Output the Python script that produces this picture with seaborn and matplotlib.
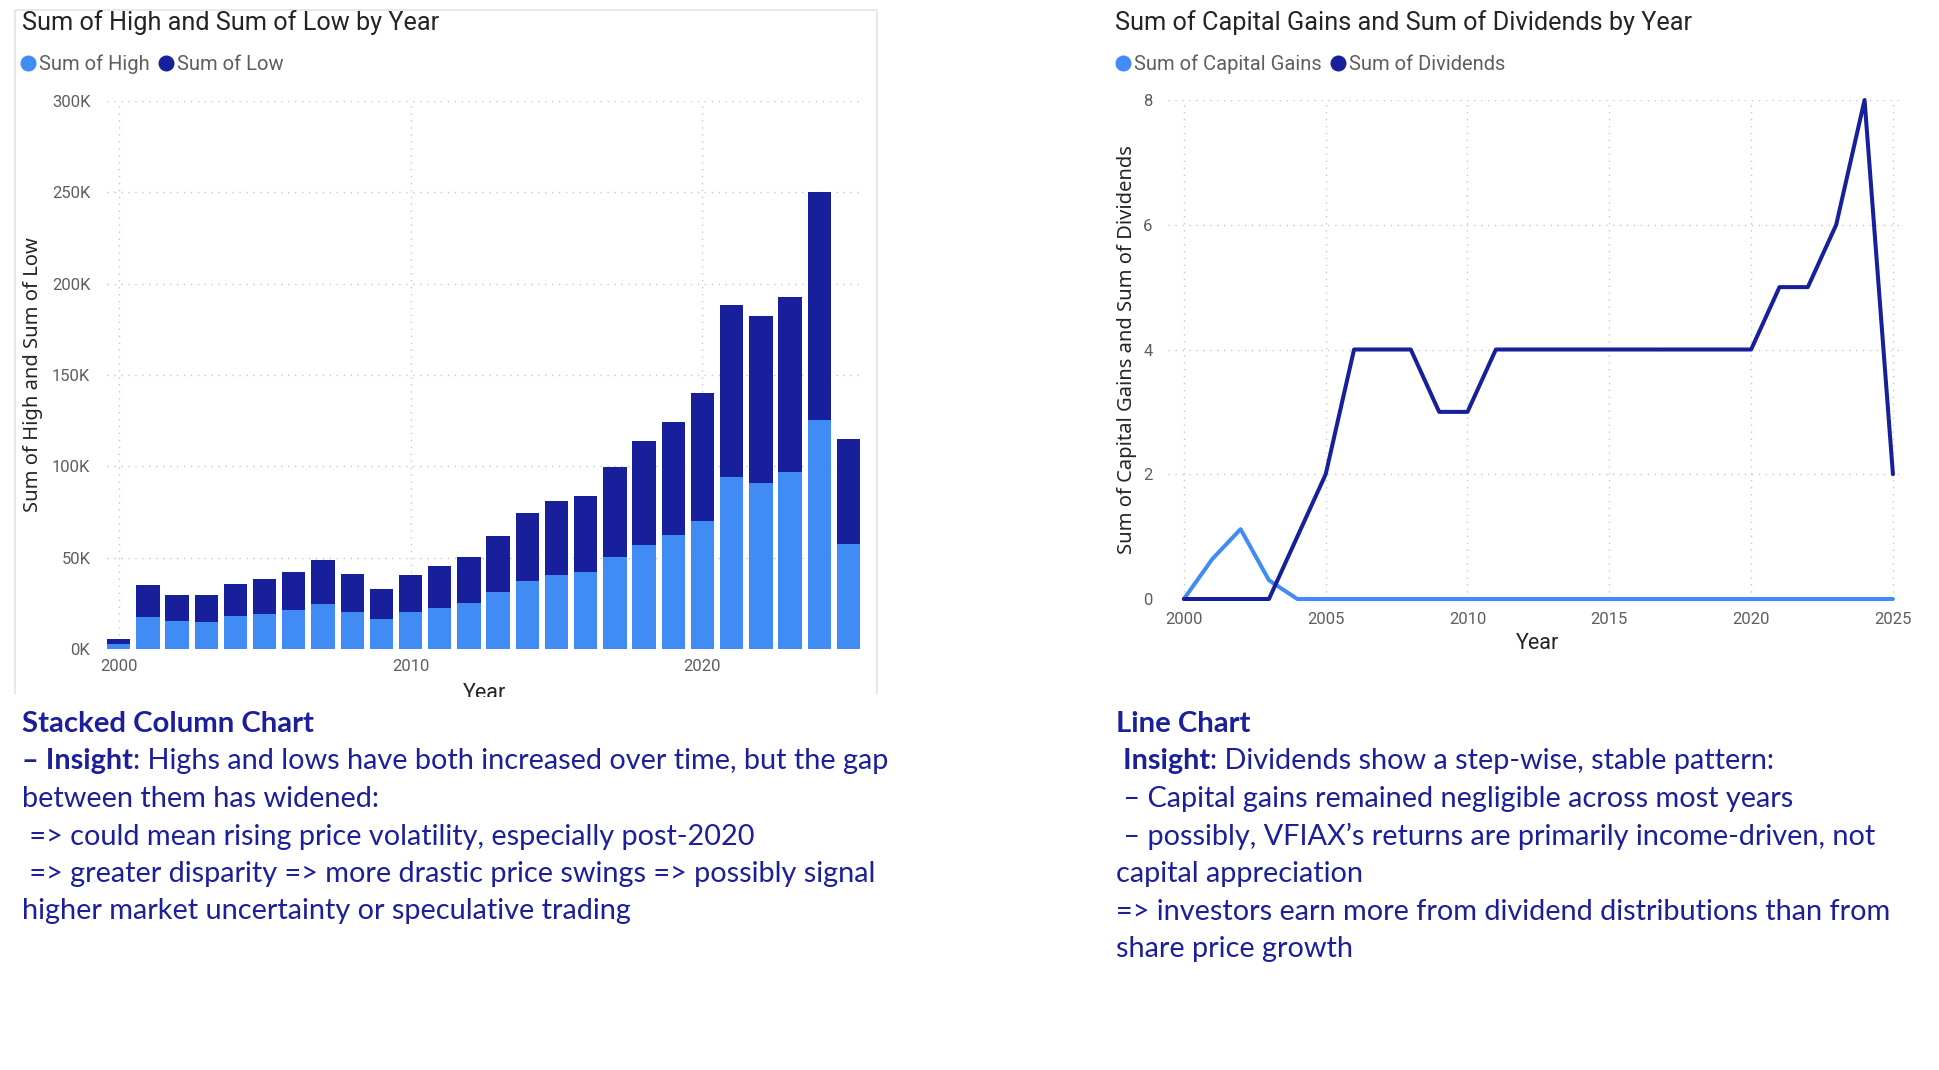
"""Stacked column + line chart with insight notes (VFIAX yearly sums)."""

import matplotlib

matplotlib.use("Agg")
import matplotlib.pyplot as plt
import pandas as pd
import seaborn as sns
from matplotlib.lines import Line2D
from matplotlib.patches import Rectangle
from matplotlib.ticker import FuncFormatter, MultipleLocator

# ---- data ----
years = list(range(2000, 2026))

# thousands
sum_high = [2.7, 17.6, 15.1, 14.9, 17.8, 19.3, 21.3, 24.4, 20.5, 16.4, 20.0, 22.7, 25.2,
            31.0, 37.1, 40.3, 42.0, 50.1, 57.2, 62.3, 70.1, 94.3, 91.1, 96.7, 125.1, 57.6]
sum_low = [2.8, 17.6, 14.7, 14.7, 17.6, 19.1, 21.0, 24.2, 20.5, 16.3, 20.3, 23.0, 25.1,
           31.0, 37.2, 40.5, 42.0, 49.8, 56.9, 61.8, 70.1, 94.0, 91.1, 96.2, 125.0, 57.4]

capital_gains = [0, 0.64, 1.12, 0.3, 0, 0, 0, 0, 0, 0, 0, 0, 0,
                 0, 0, 0, 0, 0, 0, 0, 0, 0, 0, 0, 0, 0]
dividends = [0, 0, 0, 0, 1, 2, 4, 4, 4, 3, 3, 4, 4,
             4, 4, 4, 4, 4, 4, 4, 4, 5, 5, 6, 8, 2]

left_notes = [
    [("Stacked Column Chart", True)],
    [("– Insight", True), (": Highs and lows have both increased over time, but the gap", False)],
    [("between them has widened:", False)],
    [(" => could mean rising price volatility, especially post-2020", False)],
    [(" => greater disparity => more drastic price swings => possibly signal", False)],
    [("higher market uncertainty or speculative trading", False)],
]
right_notes = [
    [("Line Chart", True)],
    [(" Insight", True), (": Dividends show a step-wise, stable pattern:", False)],
    [(" – Capital gains remained negligible across most years", False)],
    [(" – possibly, VFIAX’s returns are primarily income-driven, not", False)],
    [("capital appreciation", False)],
    [("=> investors earn more from dividend distributions than from", False)],
    [("share price growth", False)],
]

HIGH_BLUE = "#418BF5"
NAVY = "#17209A"
TEXT_NAVY = "#1B1F99"
TICK_GRAY = "#605E5C"
DARK = "#252423"
GRID = "#C8C6C4"

W, H = 1940, 1070

sns.set_style("white")
plt.rcParams["font.family"] = ["Roboto", "DejaVu Sans"]

fig = plt.figure(figsize=(W / 100, H / 100), dpi=100)


def fx(x):
    return x / W


def fy(y):
    return 1 - y / H


def px_axes(left, top, right, bottom):
    return fig.add_axes([fx(left), fy(bottom), (right - left) / W, (bottom - top) / H])


def style_axes(ax, ypad, xpad):
    sns.despine(ax=ax, left=True, bottom=True)
    ax.grid(True, color=GRID, linestyle=(0, (1, 4)), linewidth=1)
    ax.set_axisbelow(True)
    ax.tick_params(axis="both", length=0, labelsize=12, labelcolor=TICK_GRAY)
    ax.tick_params(axis="y", pad=ypad)
    ax.tick_params(axis="x", pad=xpad)


# ---- left: stacked columns ----
ax1 = px_axes(107, 101, 863, 649)
bars = pd.DataFrame({"Year": years, "High": sum_high, "Low": sum_low})
bars["Total"] = bars["High"] + bars["Low"]
sns.barplot(data=bars, x="Year", y="Total", native_scale=True, color=NAVY,
            saturation=1, width=0.8, linewidth=0, ax=ax1)
sns.barplot(data=bars, x="Year", y="High", native_scale=True, color=HIGH_BLUE,
            saturation=1, width=0.8, linewidth=0, ax=ax1)
ax1.set_xlim(1999.6, 2025.5)
ax1.set_ylim(0, 300)
ax1.set_xticks([2000, 2010, 2020])
ax1.yaxis.set_major_locator(MultipleLocator(50))
ax1.yaxis.set_major_formatter(FuncFormatter(lambda v, _: f"{v:.0f}K"))
style_axes(ax1, ypad=12, xpad=7)
ax1.set_ylabel("Sum of High and Sum of Low", fontsize=14.5, color=DARK,
               family=["Noto Sans", "DejaVu Sans"])
ax1.yaxis.set_label_coords(-0.085, 0.5)
ax1.set_xlabel("Year", fontsize=15.5, color=DARK, va="center")
ax1.xaxis.set_label_coords(0.5, -0.0805)

# ---- right: lines ----
ax2 = px_axes(1168, 100, 1902, 599)
lines = pd.DataFrame({"Year": years, "Capital Gains": capital_gains, "Dividends": dividends})
sns.lineplot(data=lines, x="Year", y="Capital Gains", color=HIGH_BLUE, linewidth=2.9,
             clip_on=False, ax=ax2)
sns.lineplot(data=lines, x="Year", y="Dividends", color=NAVY, linewidth=2.9,
             clip_on=False, ax=ax2)
ax2.set_xlim(1999.44, 2025.32)
ax2.set_ylim(0, 8)
ax2.set_xticks(range(2000, 2026, 5))
ax2.yaxis.set_major_locator(MultipleLocator(2))
style_axes(ax2, ypad=11, xpad=9)
ax2.set_ylabel("Sum of Capital Gains and Sum of Dividends", fontsize=14.5, color=DARK,
               family=["Noto Sans", "DejaVu Sans"])
ax2.yaxis.set_label_coords(-0.042, 0.5)
ax2.set_xlabel("Year", fontsize=15.5, color=DARK, va="center")
ax2.xaxis.set_label_coords(0.504, -0.09)

# ---- titles and legends ----
fig.text(fx(22), fy(23), "Sum of High and Sum of Low by Year", fontsize=18.2,
         color=DARK, va="center")
fig.text(fx(1115), fy(23), "Sum of Capital Gains and Sum of Dividends by Year",
         fontsize=18.2, color=DARK, va="center")


def dot(color):
    return Line2D([], [], marker="o", linestyle="none", markersize=10.5,
                  markerfacecolor=color, markeredgecolor=color)


for x0, labels in [(22, ["Sum of High", "Sum of Low"]),
                   (1117, ["Sum of Capital Gains", "Sum of Dividends"])]:
    fig.legend([dot(HIGH_BLUE), dot(NAVY)], labels, loc="center left",
               bbox_to_anchor=(fx(x0), fy(64)), ncol=2, frameon=False,
               handlelength=0.6, handletextpad=0.25, columnspacing=0.5,
               borderpad=0, borderaxespad=0, fontsize=14.5, labelcolor=TICK_GRAY)

# ---- panel border for the left visual, cut by the note box ----
fig.add_artist(Line2D([fx(15), fx(15), fx(877), fx(877)],
                      [fy(694), fy(10), fy(10), fy(694)],
                      transform=fig.transFigure, color="#E6E6E6", linewidth=1.3))
fig.add_artist(Rectangle((0, 0), fx(900), fy(697), transform=fig.transFigure,
                         facecolor="white", edgecolor="none", zorder=3))

# ---- insight notes ----
tax = fig.add_axes([0, 0, 1, 1], zorder=5)
tax.set_axis_off()


def note_block(x, first_baseline, rows, step=37.5):
    for i, parts in enumerate(rows):
        y = fy(first_baseline + i * step)
        size = 21.2 if i == 0 else 20.8
        prev = None
        for text, bold in parts:
            kw = dict(fontsize=size, color=TEXT_NAVY, va="baseline",
                      fontweight="bold" if bold else "normal",
                      family=["Lato", "DejaVu Sans"])
            if prev is None:
                prev = tax.text(fx(x), y, text, transform=tax.transAxes, **kw)
            else:
                prev = tax.annotate(text, xy=(1, y), xycoords=(prev, tax.transAxes),
                                    ha="left", annotation_clip=False, **kw)


note_block(22, 732, left_notes)
note_block(1116, 732, right_notes)

fig.savefig("out.png", dpi=100, facecolor="white")
